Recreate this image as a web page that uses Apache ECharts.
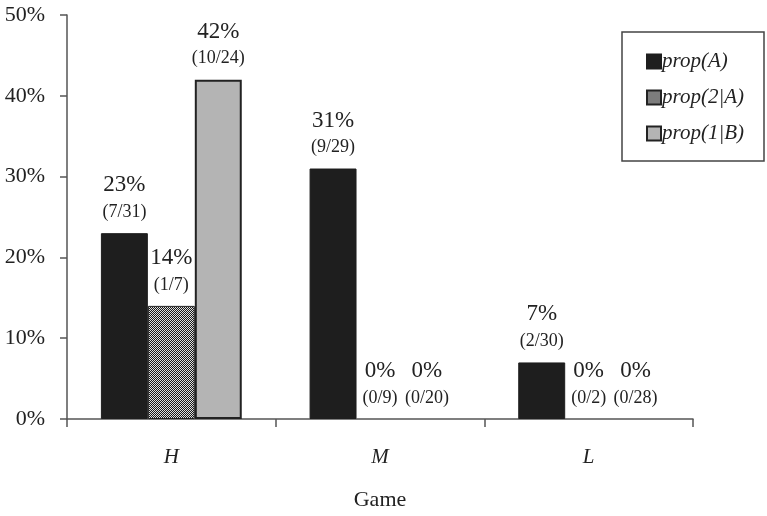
<!DOCTYPE html>
<html>
<head>
<meta charset="utf-8">
<script src="https://cdn.jsdelivr.net/npm/echarts@6/dist/echarts.min.js"></script>
<style>html,body{margin:0;padding:0;background:#fff}#c{width:767px;height:516px}</style>
</head>
<body>
<div id="c"></div>
<script>
var categories = ['H', 'M', 'L'];
var seriesNames = ['prop(A)', 'prop(2|A)', 'prop(1|B)'];
var propA = [23, 31, 7];
var prop2A = [14, 0, 0];
var prop1B = [42, 0, 0];
var fracA = ['(7/31)', '(9/29)', '(2/30)'];
var frac2A = ['(1/7)', '(0/9)', '(0/2)'];
var frac1B = ['(10/24)', '(0/20)', '(0/28)'];
var yTicks = [0, 10, 20, 30, 40, 50];

var serif = '"Liberation Serif", "Times New Roman", serif';

// checker pattern
var pc = document.createElement('canvas');
pc.width = 2; pc.height = 2;
var pctx = pc.getContext('2d');
pctx.fillStyle = '#1a1a1a'; pctx.fillRect(0, 0, 2, 2);
pctx.fillStyle = '#e0e0e0'; pctx.fillRect(0, 0, 1, 1); pctx.fillRect(1, 1, 1, 1);

function mkLabel(fracs, vals) {
  return {
    show: true,
    position: 'top',
    distance: 7,
    formatter: function (p) {
      return '{a|' + vals[p.dataIndex] + '%}\n{b|' + fracs[p.dataIndex] + '}';
    },
    rich: {
      a: { fontFamily: serif, fontSize: 23, lineHeight: 26, color: '#222' },
      b: { fontFamily: serif, fontSize: 18, lineHeight: 28, color: '#222' }
    }
  };
}

function mkData(vals) {
  return vals.map(function (v) {
    return v === 0 ? { value: v, itemStyle: { borderWidth: 0 } } : { value: v };
  });
}

var chart = echarts.init(document.getElementById('c'));
chart.setOption({
  animation: false,
  backgroundColor: '#fff',
  grid: { left: 67, right: 74, top: 15, bottom: 96 },
  graphic: [{
    type: 'rect', z: 0,
    shape: { x: 622, y: 32, width: 142, height: 129 },
    style: { fill: '#fff', stroke: '#444', lineWidth: 1.5 }
  }],
  legend: {
    orient: 'vertical',
    left: 641, top: 46,
    icon: 'rect',
    itemWidth: 14, itemHeight: 14,
    itemGap: 15,
    z: 10,
    data: seriesNames,
    textStyle: { fontFamily: serif, fontStyle: 'italic', fontSize: 21, color: '#222', padding: [0, 0, 0, -4] }
  },
  xAxis: {
    type: 'category',
    data: categories,
    boundaryGap: true,
    axisLine: { lineStyle: { color: '#555', width: 1.5 } },
    axisTick: { show: true, length: 8, lineStyle: { color: '#555', width: 1.5 } },
    axisLabel: { fontFamily: serif, fontStyle: 'italic', fontSize: 21, color: '#222', margin: 28 },
    name: 'Game',
    nameLocation: 'middle',
    nameGap: 70,
    nameTextStyle: { fontFamily: serif, fontSize: 22, color: '#222' }
  },
  yAxis: {
    type: 'value',
    min: yTicks[0], max: yTicks[yTicks.length - 1], interval: 10,
    axisLine: { show: true, lineStyle: { color: '#555', width: 1.5 } },
    axisTick: { show: true, length: 7, lineStyle: { color: '#555', width: 1.5 } },
    splitLine: { show: false },
    axisLabel: { fontFamily: serif, fontSize: 22, color: '#222', margin: 22, formatter: '{value}%' }
  },
  series: [
    {
      name: seriesNames[0], type: 'bar', data: mkData(propA),
      barGap: '0%', barCategoryGap: '32.5%',
      itemStyle: { color: '#1e1e1e', borderColor: '#1e1e1e', borderWidth: 1 },
      label: mkLabel(fracA, propA)
    },
    {
      name: seriesNames[1], type: 'bar', data: mkData(prop2A),
      itemStyle: { color: { image: pc, repeat: 'repeat' }, borderColor: '#222', borderWidth: 1 },
      label: mkLabel(frac2A, prop2A)
    },
    {
      name: seriesNames[2], type: 'bar', data: mkData(prop1B),
      itemStyle: { color: '#b4b4b4', borderColor: '#222', borderWidth: 2 },
      label: mkLabel(frac1B, prop1B)
    }
  ]
});
</script>
</body>
</html>
